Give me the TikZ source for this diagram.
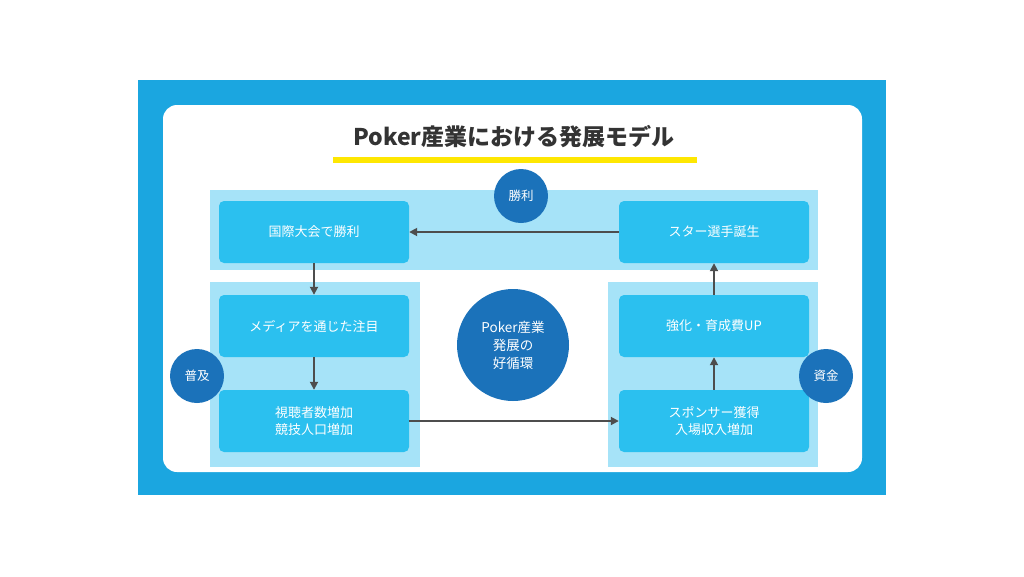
\documentclass[tikz,border=0pt]{standalone}
\usepackage{fontspec}
\setmainfont{Noto Sans CJK JP}
\usetikzlibrary{arrows.meta}
\definecolor{outer}{HTML}{1BA6E0}
\definecolor{band}{HTML}{A6E3F8}
\definecolor{boxc}{HTML}{2BC0EF}
\definecolor{dark}{HTML}{1B72BA}
\definecolor{arr}{HTML}{4D4D4D}
\begin{document}
\begin{tikzpicture}[x=1pt,y=-1pt,
  bx/.style={fill=boxc,rounded corners=5pt,minimum width=190pt,minimum height=62pt,text=white,font=\fontsize{13}{17}\selectfont,align=center,inner sep=0},
  circ/.style={circle,fill=dark,text=white,minimum size=54pt,font=\fontsize{12.5}{15}\selectfont,inner sep=0},
  ar/.style={draw=arr,line width=1.8pt,-{Triangle[length=8pt,width=8pt]}}]
\useasboundingbox (0,0) rectangle (1024,576);
\fill[white] (0,0) rectangle (1024,576);
\fill[outer] (138,80) rectangle (886,495);
\fill[white,rounded corners=14pt] (163,105) rectangle (862,472);
\node[font=\fontsize{23}{26}\selectfont\bfseries,text=black!80] (title) at (514,137) {Poker産業における発展モデル};
\fill[yellow!90!orange] (333,157) rectangle (697,163);
\fill[band] (210,190) rectangle (818,270);
\fill[band] (210,282) rectangle (420,467);
\fill[band] (608,282) rectangle (818,467);
\node[bx] (a) at (314,232) {国際大会で勝利};
\node[bx] (f) at (714,232) {スター選手誕生};
\node[bx] (b) at (314,326) {メディアを通じた注目};
\node[bx] (c) at (314,421) {視聴者数増加\\競技人口増加};
\node[bx] (e) at (714,326) {強化・育成費UP};
\node[bx] (d) at (714,421) {スポンサー獲得\\入場収入増加};
\node[circ] (w) at (521,196) {勝利};
\node[circ] (p) at (197,376) {普及};
\node[circ] (m) at (826,376) {資金};
\node[circ,minimum size=112pt,font=\fontsize{13.5}{18}\selectfont,align=center] (center) at (513,345) {Poker産業\\発展の\\好循環};
\draw[ar] (f) -- (a);
\draw[ar] (a) -- (b);
\draw[ar] (b) -- (c);
\draw[ar] (c) -- (d);
\draw[ar] (d) -- (e);
\draw[ar] (e) -- (f);
\end{tikzpicture}
\end{document}
